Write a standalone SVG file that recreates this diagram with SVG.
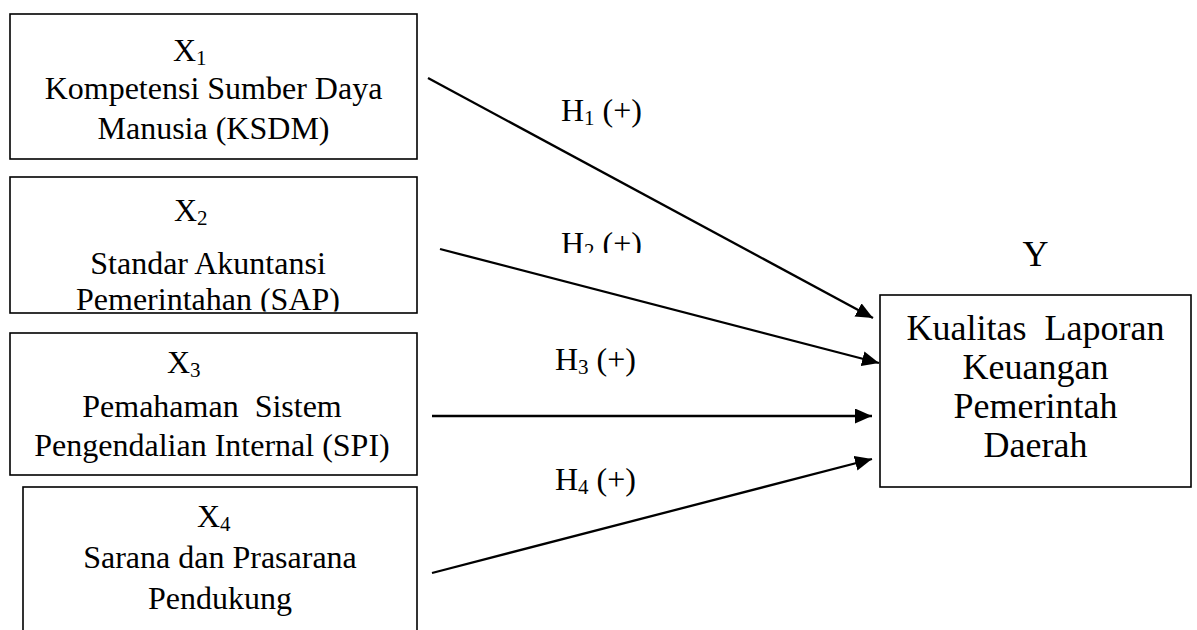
<svg xmlns="http://www.w3.org/2000/svg" width="1197" height="630" viewBox="0 0 1197 630">
<style>
.box{fill:#fff;stroke:#000;stroke-width:1.6}
.t{font-family:"Liberation Serif","Times New Roman",serif;font-size:32px;fill:#000;white-space:pre}
.m{text-anchor:middle}
.ty{font-family:"Liberation Serif","Times New Roman",serif;font-size:36px;fill:#000;text-anchor:middle;white-space:pre}
.sub{font-size:21px}
.conn{stroke:#000;stroke-width:2.3;fill:none;marker-end:url(#ah)}
</style>
<defs>
<marker id="ah" markerUnits="userSpaceOnUse" markerWidth="18" markerHeight="16" refX="17" refY="7.5" orient="auto">
<path d="M0,0 L17,7.5 L0,15 z" fill="#000"/>
</marker>
<clipPath id="clipX2"><rect x="0" y="170" width="430" height="141.5"/></clipPath>
<clipPath id="clipH2"><rect x="540" y="220" width="120" height="33"/></clipPath>
</defs>
<rect width="1197" height="630" fill="#fff"/>

<g id="node-x1">
<rect class="box" x="10" y="14" width="407" height="145"/>
<text class="t" x="173" y="61">X<tspan class="sub" dy="4">1</tspan></text>
<text class="t m" x="213.5" y="99">Kompetensi Sumber Daya</text>
<text class="t m" x="213.5" y="139">Manusia (KSDM)</text>
</g>

<g id="node-x2">
<rect class="box" x="10" y="177" width="407" height="136"/>
<g clip-path="url(#clipX2)">
<text class="t" x="174" y="221">X<tspan class="sub" dy="4">2</tspan></text>
<text class="t m" x="208" y="274">Standar Akuntansi</text>
<text class="t m" x="208" y="310">Pemerintahan (SAP)</text>
</g>
</g>

<g id="node-x3">
<rect class="box" x="10" y="333" width="407" height="142"/>
<text class="t" x="167" y="373">X<tspan class="sub" dy="4">3</tspan></text>
<text class="t m" x="212" y="417">Pemahaman  Sistem</text>
<text class="t m" x="212" y="456">Pengendalian Internal (SPI)</text>
</g>

<g id="node-x4">
<rect class="box" x="23" y="487" width="394" height="160"/>
<text class="t" x="197" y="527">X<tspan class="sub" dy="4">4</tspan></text>
<text class="t m" x="220" y="568">Sarana dan Prasarana</text>
<text class="t m" x="220" y="609">Pendukung</text>
</g>

<g id="node-y">
<text class="ty" x="1035.5" y="266">Y</text>
<rect class="box" x="880" y="295" width="311" height="192"/>
<text class="ty" x="1035.5" y="340">Kualitas  Laporan</text>
<text class="ty" x="1035.5" y="379">Keuangan</text>
<text class="ty" x="1035.5" y="418">Pemerintah</text>
<text class="ty" x="1035.5" y="457">Daerah</text>
</g>

<g id="connectors">
<line class="conn" x1="428" y1="78" x2="873" y2="318"/>
<line class="conn" x1="440" y1="249" x2="879" y2="363"/>
<line class="conn" x1="432" y1="416" x2="872" y2="416"/>
<line class="conn" x1="432" y1="573" x2="872" y2="459"/>
</g>

<g id="labels">
<text class="t" x="561" y="121">H<tspan class="sub" dy="4">1</tspan><tspan dy="-4"> (+)</tspan></text>
<g clip-path="url(#clipH2)">
<text class="t" x="561" y="254">H<tspan class="sub" dy="4">2</tspan><tspan dy="-4"> (+)</tspan></text>
</g>
<text class="t" x="555" y="370">H<tspan class="sub" dy="4">3</tspan><tspan dy="-4"> (+)</tspan></text>
<text class="t" x="555" y="490">H<tspan class="sub" dy="4">4</tspan><tspan dy="-4"> (+)</tspan></text>
</g>
</svg>
